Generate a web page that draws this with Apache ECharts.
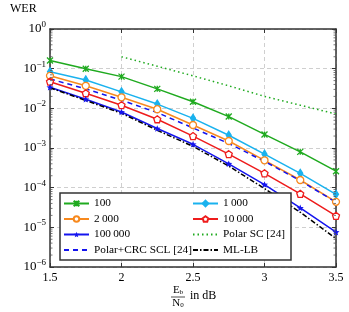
<!DOCTYPE html>
<html><head><meta charset="utf-8">
<script src="https://cdn.jsdelivr.net/npm/echarts@6/dist/echarts.min.js"></script>
<style>html,body{margin:0;padding:0;background:#fff}#c{width:349px;height:312px}</style>
</head><body><div id="c"></div>
<script>
const snr = [1.5, 1.75, 2, 2.25, 2.5, 2.75, 3, 3.25, 3.5];
const w100 = [0.16, 0.10, 0.063, 0.031, 0.0147, 0.0062, 0.0022, 8.0e-4, 2.6e-4];
const w1000 = [0.084, 0.052, 0.026, 0.0128, 0.0056, 0.0021, 7.0e-4, 2.3e-4, 6.8e-5];
const w2000 = [0.066, 0.037, 0.019, 0.0095, 0.0038, 0.0015, 4.9e-4, 1.56e-4, 4.4e-5];
const w10000 = [0.047, 0.024, 0.012, 0.0053, 0.0020, 7.0e-4, 2.3e-4, 7.0e-5, 1.95e-5];
const w100000 = [0.034, 0.017, 0.0081, 0.0031, 0.00124, 4.0e-4, 1.2e-4, 3.1e-5, 7.6e-6];
const crcScl = [0.055, 0.031, 0.016, 0.0078, 0.0032, 0.0013, 4.6e-4, 1.5e-4, 4.3e-5];
const mlLb = [0.033, 0.0158, 0.0075, 0.0028, 0.0011, 3.5e-4, 9.5e-5, 2.4e-5, 5.2e-6];
const scSnr = [2, 2.25, 2.5, 2.75, 3, 3.25, 3.5];
const polarSc = [0.2, 0.115, 0.066, 0.037, 0.020, 0.012, 0.0072];
const xTicks = [1.5, 2, 2.5, 3, 3.5];

const FONT = 'Liberation Serif';
const pairs = (xs, ys) => xs.map((x, i) => [x, ys[i]]);

function starPath() {
  let p = [];
  for (let k = 0; k < 10; k++) {
    const r = k % 2 === 0 ? 5 : 2.2;
    const a = -Math.PI / 2 + k * Math.PI / 5;
    p.push((5 + r * Math.cos(a)).toFixed(2) + ',' + (5 + r * Math.sin(a)).toFixed(2));
  }
  return 'path://M' + p.join('L') + 'Z';
}
const crossPath = 'path://M0,0L10,10M10,0L0,10M5,0L5,10';
const pentPath = 'path://M5,0L10,3.8L8.1,10L1.9,10L0,3.8Z';

const C = {g: '#1faa1f', c: '#1ab2ee', o: '#f7891e', r: '#ee1c1c', b: '#1414ee', k: '#000'};

function mk(name, xs, ys, color, symbol, size, fill, ltype, bw) {
  return {
    name, type: 'line', data: pairs(xs, ys), xAxisIndex: 0, yAxisIndex: 0,
    symbol: symbol, symbolSize: size, showSymbol: symbol !== 'none', symbolKeepAspect: true,
    lineStyle: {color, width: 1.5, type: ltype || 'solid'},
    itemStyle: {color: fill, borderColor: color, borderWidth: bw === undefined ? 1.3 : bw},
    emphasis: {disabled: true}, animation: false, z: 2
  };
}

const series = [
  mk('100', snr, w100, C.g, crossPath, 6, C.g),
  mk('1\u2009000', snr, w1000, C.c, 'diamond', [5, 8], C.c),
  mk('2\u2009000', snr, w2000, C.o, 'circle', 7, '#fff'),
  mk('10\u2009000', snr, w10000, C.r, pentPath, 7, '#fff'),
  mk('100\u2009000', snr, w100000, C.b, starPath(), 7, C.b, null, 0),
  mk('Polar SC [24]', scSnr, polarSc, C.g, 'none', 0, C.g, [1.5, 3]),
  mk('Polar+CRC SCL [24]', snr, crcScl, C.b, 'none', 0, C.b, [5, 4]),
  mk('ML-LB', snr, mlLb, C.k, 'none', 0, C.k, [5, 2, 1.5, 2])
];

function expLabel(v) {
  const e = Math.round(Math.log10(v));
  return '{a|10}{b|' + (e < 0 ? '\u2212' + (-e) : e) + '}';
}

const noMark = {color: 'rgba(0,0,0,0)', borderWidth: 0, borderColor: 'rgba(0,0,0,0)'};
const legendText = {fontFamily: FONT, fontSize: 11.3, color: '#000', lineHeight: 10};
const legendBase = {orient: 'vertical', top: 198, itemWidth: 25, itemHeight: 7, itemGap: 4.5,
  symbolKeepAspect: true,
  textStyle: legendText, padding: 0, z: 6, selectedMode: false};
const chart = echarts.init(document.getElementById('c'), null, {renderer: 'canvas'});
const option = {
  animation: false,
  backgroundColor: '#fff',
  grid: {left: 50, right: 13, top: 29, bottom: 45, containLabel: false},
  xAxis: [{
    type: 'value', min: 1.5, max: 3.5, interval: 0.5, position: 'bottom',
    axisLine: {onZero: false, lineStyle: {color: '#333', width: 1.5}},
    axisTick: {inside: true, length: 4, lineStyle: {color: '#333'}},
    axisLabel: {margin: 5, fontFamily: FONT, fontSize: 12, color: '#000'},
    splitLine: {show: true, lineStyle: {color: '#cfcfcf', type: [4, 3], width: 1}}
  }, {
    type: 'value', min: 1.5, max: 3.5, interval: 0.5, position: 'top',
    axisLine: {onZero: false, lineStyle: {color: '#333', width: 1.5}},
    axisTick: {inside: true, length: 4, lineStyle: {color: '#333'}},
    axisLabel: {show: false}, splitLine: {show: false}
  }],
  yAxis: [{
    type: 'log', logBase: 10, min: 1e-6, max: 1, interval: 1, position: 'left',
    axisLine: {onZero: false, lineStyle: {color: '#333', width: 1.5}},
    axisTick: {inside: true, length: 4, lineStyle: {color: '#333'}},
    axisLabel: {
      margin: 4, formatter: expLabel,
      rich: {
        a: {fontFamily: FONT, fontSize: 13, color: '#000'},
        b: {fontFamily: FONT, fontSize: 9, color: '#000', padding: [0, 0, 9, 0]}
      }
    },
    splitLine: {show: true, lineStyle: {color: '#cfcfcf', type: [4, 3], width: 1}}
  }, {
    type: 'log', logBase: 10, min: 1e-6, max: 1, interval: 1, position: 'right',
    axisLine: {onZero: false, lineStyle: {color: '#333', width: 1.5}},
    axisTick: {inside: true, length: 4, lineStyle: {color: '#333'}},
    axisLabel: {show: false}, splitLine: {show: false}
  }],
  legend: [Object.assign({}, legendBase, {
    left: 63,
    data: ['100', '2\u2009000', '100\u2009000', {name: 'Polar+CRC SCL [24]', itemStyle: noMark}]
  }), Object.assign({}, legendBase, {
    left: 192,
    data: ['1\u2009000', '10\u2009000', {name: 'Polar SC [24]', itemStyle: noMark}, {name: 'ML-LB', itemStyle: noMark}]
  })],
  series
};
chart.setOption(option);

// decorations: legend frame, axis names, minor log ticks (positions from the axis scale)
const g = [];
g.push({type: 'rect', z: 5, shape: {x: 60, y: 193, width: 231, height: 67},
  style: {fill: '#fff', stroke: '#333', lineWidth: 1.5}});
g.push({type: 'text', z: 5, left: 10, top: 3,
  style: {text: 'WER', font: '12px "' + FONT + '"', fill: '#000'}});
// x axis name: Eb/N0 in dB
g.push({type: 'text', z: 5, x: 178, y: 285,
  style: {text: '{e|E}{s|b}', align: 'center', verticalAlign: 'top',
    rich: {e: {fontFamily: FONT, fontSize: 11, fill: '#000'}, s: {fontFamily: FONT, fontSize: 7, fill: '#000', padding: [4, 0, 0, 0]}}}});
g.push({type: 'line', z: 5, shape: {x1: 171, y1: 297, x2: 185, y2: 297}, style: {stroke: '#000', lineWidth: 0.7}});
g.push({type: 'text', z: 5, x: 178, y: 298,
  style: {text: '{e|N}{s|0}', align: 'center', verticalAlign: 'top',
    rich: {e: {fontFamily: FONT, fontSize: 11, fill: '#000'}, s: {fontFamily: FONT, fontSize: 7, fill: '#000', padding: [4, 0, 0, 0]}}}});
g.push({type: 'text', z: 5, x: 190, y: 290,
  style: {text: 'in dB', font: '12px "' + FONT + '"', fill: '#000'}});

const xl = chart.convertToPixel({xAxisIndex: 0}, 1.5);
const xr = chart.convertToPixel({xAxisIndex: 0}, 3.5);
for (let e = -6; e < 0; e++) {
  for (let m = 2; m <= 9; m++) {
    const y = chart.convertToPixel({yAxisIndex: 0}, m * Math.pow(10, e));
    g.push({type: 'line', z: 4, shape: {x1: xl, y1: y, x2: xl + 2.5, y2: y}, style: {stroke: '#555', lineWidth: 0.8}});
    g.push({type: 'line', z: 4, shape: {x1: xr, y1: y, x2: xr - 2.5, y2: y}, style: {stroke: '#555', lineWidth: 0.8}});
  }
}
chart.setOption({graphic: g});
</script></body></html>
